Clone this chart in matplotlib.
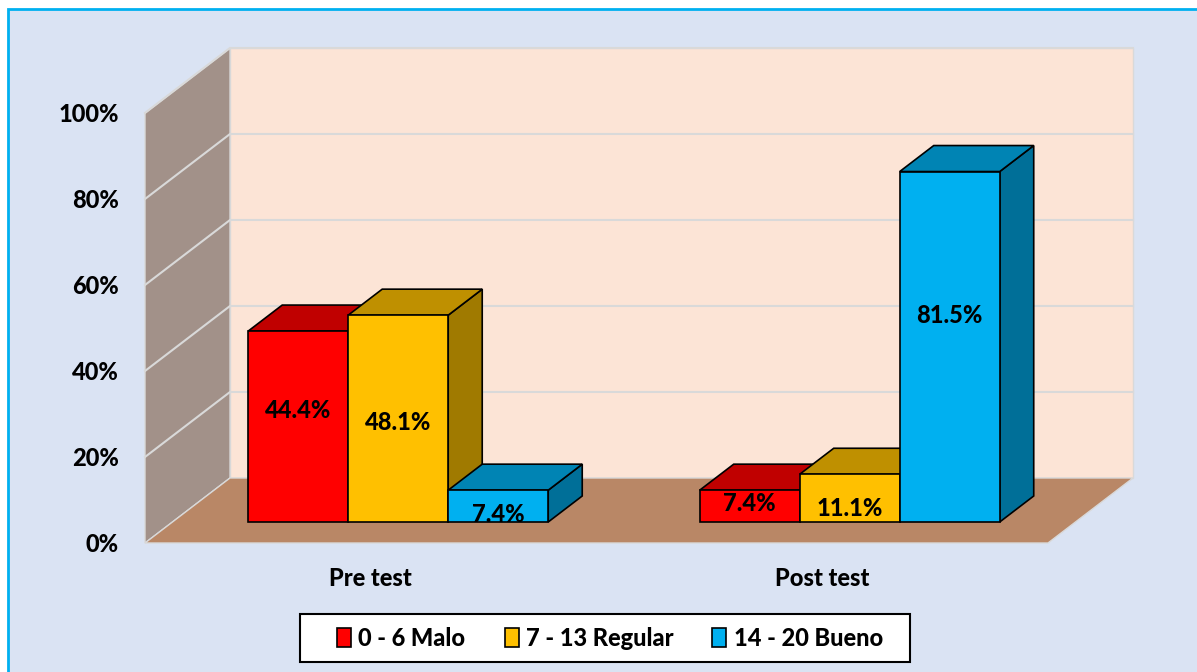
import matplotlib
matplotlib.use("Agg")
import matplotlib.pyplot as plt
from matplotlib.patches import Polygon, Patch, Rectangle

# data
categories = ["Pre test", "Post test"]
series = ["0 - 6 Malo", "7 - 13 Regular", "14 - 20 Bueno"]
malo = [44.4, 7.4]
regular = [48.1, 11.1]
bueno = [7.4, 81.5]
values = [malo, regular, bueno]
yticks = [0, 20, 40, 60, 80, 100]

# where Excel put each value label (in % on the front plane)
label_y = [[30.7, 9.1], [28.1, 8.1], [6.7, 53.0]]

front_col = ["#FF0000", "#FFC000", "#00B0F0"]
top_col = ["#C00000", "#BF9000", "#0084B4"]
side_col = ["#A00000", "#A07A00", "#006F98"]

plt.rcParams["font.family"] = ["Lato", "DejaVu Sans"]
FS = 17
WT = 900

W, H = 1197, 672
fig = plt.figure(figsize=(W / 100, H / 100), dpi=100)
fig.patch.set_facecolor("white")
fig.patches.append(Rectangle((8 / W, -0.05), 1.1, (H - 9) / H + 0.05,
                             transform=fig.transFigure, facecolor="#DAE3F3",
                             edgecolor="#00B0F0", lw=2, zorder=-10))

# axes = front plane of the 3D box
ax = fig.add_axes([145 / W, (H - 543) / H, 903 / W, 430 / H])
ax.set_xlim(-0.5, 1.5)
ax.set_ylim(0, 100)
ax.patch.set_alpha(0)
for s in ax.spines.values():
    s.set_visible(False)

DX, DY = 0.1883, 15.12      # full depth offset
Z0, DZ = 0.323, 0.40        # bar front depth, bar depth
bw = 0.2215
x0, x1 = -0.5, 1.5

# walls + floor
wall = Polygon([(x0 + DX, DY), (x1 + DX, DY), (x1 + DX, 100 + DY), (x0 + DX, 100 + DY)],
               facecolor="#FCE4D6", edgecolor="#D9D9D9", lw=1, clip_on=False, zorder=0.5)
side = Polygon([(x0, 0), (x0 + DX, DY), (x0 + DX, 100 + DY), (x0, 100)],
               facecolor="#A29189", edgecolor="#D9D9D9", lw=1, clip_on=False, zorder=0.5)
floor = Polygon([(x0, 0), (x1, 0), (x1 + DX, DY), (x0 + DX, DY)],
                facecolor="#B98766", edgecolor="#D9D9D9", lw=1, clip_on=False, zorder=0.6)
for p in (wall, side, floor):
    ax.add_patch(p)

for v in yticks[1:]:
    ax.plot([x0, x0 + DX, x1 + DX], [v, v + DY, v + DY], color="#D9D9D9",
            lw=1.5, clip_on=False, zorder=0.8)

# bars
order = 0
for c in range(len(categories)):
    for i in range(len(series)):
        v = values[i][c]
        xl = c + (i - 1) * bw - bw / 2 + Z0 * DX
        yb = Z0 * DY
        z = 3 + order * 0.1
        order += 1
        ax.add_patch(Polygon([(xl + bw, yb), (xl + bw, yb + v),
                              (xl + bw + DZ * DX, yb + v + DZ * DY),
                              (xl + bw + DZ * DX, yb + DZ * DY)],
                             facecolor=side_col[i], edgecolor="black", lw=1.2,
                             clip_on=False, zorder=z))
        ax.add_patch(Polygon([(xl, yb + v), (xl + DZ * DX, yb + v + DZ * DY),
                              (xl + bw + DZ * DX, yb + v + DZ * DY), (xl + bw, yb + v)],
                             facecolor=top_col[i], edgecolor="black", lw=1.2,
                             clip_on=False, zorder=z))
        ax.bar(xl, v, width=bw, bottom=yb, align="edge", color=front_col[i],
               edgecolor="black", lw=1.2, zorder=z + 0.01, clip_on=False)
        ax.text(xl + bw / 2, label_y[i][c], f"{v}%", ha="center", va="center",
                fontsize=FS, fontweight=WT, zorder=10)

ax.set_yticks(yticks, [f"{t}%" for t in yticks])
ax.set_xticks(range(len(categories)), categories)
ax.tick_params(axis="y", length=0, pad=19, labelsize=FS)
ax.tick_params(axis="x", length=0, pad=17, labelsize=FS)
for lab in ax.get_xticklabels() + ax.get_yticklabels():
    lab.set_fontweight(WT)

# legend (frame drawn separately, it is wider than the entries)
fig.patches.append(Rectangle((300 / W, 1 - 662 / H), 610 / W, 48 / H,
                             transform=fig.transFigure, facecolor="white",
                             edgecolor="black", lw=1.5, zorder=4))
handles = [Patch(facecolor=front_col[i], edgecolor="black", lw=1.2, label=series[i])
           for i in range(len(series))]
leg = fig.legend(handles=handles, loc="center", bbox_to_anchor=(610 / W, 1 - 638 / H),
                 ncol=3, frameon=False, prop={"weight": WT, "size": FS},
                 handlelength=0.6, handleheight=0.9, handletextpad=0.3,
                 columnspacing=1.65, borderpad=0.5)
leg.set_zorder(5)

fig.savefig("out.png", dpi=100)
